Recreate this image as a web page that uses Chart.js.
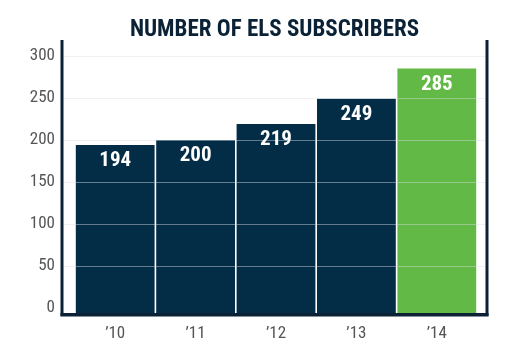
<!DOCTYPE html>
<html>
<head>
<meta charset="utf-8">
<script src="https://cdn.jsdelivr.net/npm/chart.js@4"></script>
<style>
  html, body { margin: 0; padding: 0; background: #fff; }
  #wrap { width: 514px; height: 352px; }
</style>
</head>
<body>
<div id="wrap"><canvas id="chart"></canvas></div>
<script>
// ====== Data ======
const chartTitle = 'NUMBER OF ELS SUBSCRIBERS';
const years = ['\u201910', '\u201911', '\u201912', '\u201913', '\u201914'];
const subscribers = [194, 200, 219, 249, 285];
const barColors = ['#032d46', '#032d46', '#032d46', '#032d46', '#62b946'];
const yTicks = [0, 50, 100, 150, 200, 250, 300];

const NAVY = '#0b2236';
const FONT = '"Roboto Condensed", "DejaVu Sans Condensed", sans-serif';

// ====== Frame, grid lines, value labels and title ======
const framePlugin = {
    id: 'frame',
    afterDatasetsDraw(chart) {
        const ctx = chart.ctx;
        const y = chart.scales.y;
        const area = chart.chartArea;
        const left = area.left - 13;
        const right = area.right + 10;

        // grid lines drawn over the bars
        ctx.save();
        ctx.strokeStyle = 'rgba(220,225,230,0.45)';
        ctx.lineWidth = 1;
        yTicks.forEach(v => {
            if (v === 0) return;
            const py = Math.round(y.getPixelForValue(v)) + 0.5;
            ctx.beginPath();
            ctx.moveTo(left, py);
            ctx.lineTo(right, py);
            ctx.stroke();
        });

        // axis frame
        ctx.fillStyle = NAVY;
        ctx.fillRect(left - 1.5, 40, 3, area.bottom + 3 - 40);
        ctx.fillRect(right - 1.5, 40, 3, area.bottom + 3 - 40);
        ctx.fillRect(left - 1.5, area.bottom, right - left + 3, 3.5);

        // value labels
        const meta = chart.getDatasetMeta(0);
        ctx.fillStyle = '#ffffff';
        ctx.font = 'bold 21px ' + FONT;
        ctx.textAlign = 'center';
        ctx.textBaseline = 'middle';
        meta.data.forEach((bar, i) => {
            ctx.fillText(String(subscribers[i]), bar.x, bar.y + 16);
        });

        // title, centred over the framed area
        ctx.fillStyle = NAVY;
        ctx.font = 'bold 23px ' + FONT;
        ctx.textBaseline = 'alphabetic';
        ctx.fillText(chartTitle, (left + right) / 2, 36);
        ctx.restore();
    }
};

const ctx = document.getElementById('chart').getContext('2d');
new Chart(ctx, {
    type: 'bar',
    data: {
        labels: years,
        datasets: [{
            data: subscribers,
            backgroundColor: barColors,
            borderWidth: 0,
            categoryPercentage: 1,
            barPercentage: 0.98,
            base: -6
        }]
    },
    options: {
        responsive: true,
        maintainAspectRatio: false,
        animation: false,
        layout: { padding: { left: 30, right: 37, top: 56, bottom: 0 } },
        plugins: {
            legend: { display: false },
            tooltip: { enabled: false },
            title: { display: false }
        },
        scales: {
            x: {
                grid: { display: false, drawTicks: false },
                border: { display: false },
                ticks: {
                    color: '#555555',
                    font: { family: FONT, size: 17 },
                    padding: 11
                },
                afterFit(s) { s.height = 39; }
            },
            y: {
                min: -6,
                max: 300,
                grid: { display: false, drawTicks: false },
                border: { display: false },
                afterBuildTicks(s) { s.ticks = yTicks.map(v => ({ value: v })); },
                ticks: {
                    color: '#555555',
                    font: { family: FONT, size: 17 },
                    padding: 20
                },
                afterFit(s) { s.width = 45; }
            }
        }
    },
    plugins: [framePlugin]
});
</script>
</body>
</html>
